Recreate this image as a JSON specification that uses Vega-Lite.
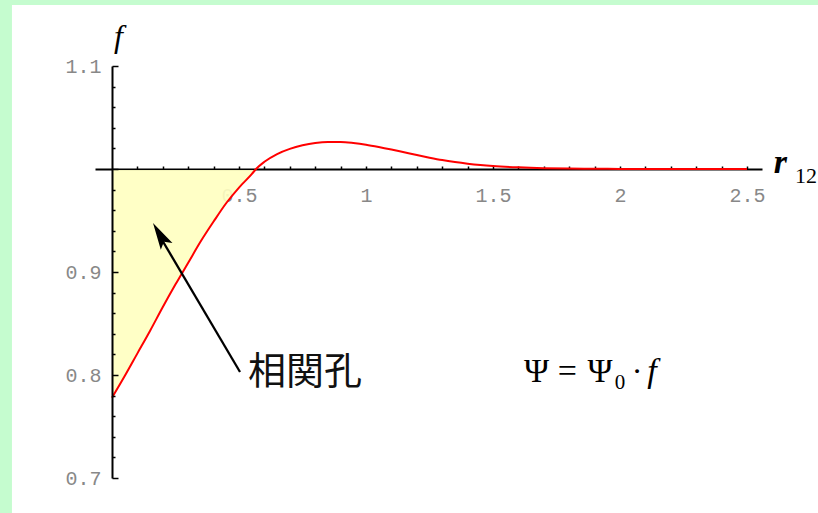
{
  "$schema": "https://vega.github.io/schema/vega-lite/v6.json",
  "width": 667,
  "height": 412,
  "autosize": {"type": "none"},
  "padding": {"left": 95, "top": 66, "right": 56, "bottom": 35},
  "background": "white",
  "config": {
    "view": {"stroke": null},
    "axis": {"labelOverlap": false, "labelFlush": false, "labelBound": false}
  },
  "datasets": {
    "curve": [
      {"r": 0, "f": 0.778},
      {"r": 0.05, "f": 0.799},
      {"r": 0.1, "f": 0.821},
      {"r": 0.15, "f": 0.843},
      {"r": 0.2, "f": 0.866},
      {"r": 0.25, "f": 0.888},
      {"r": 0.3, "f": 0.909},
      {"r": 0.35, "f": 0.93},
      {"r": 0.4, "f": 0.949},
      {"r": 0.45, "f": 0.967},
      {"r": 0.5, "f": 0.982},
      {"r": 0.55, "f": 0.995},
      {"r": 0.567, "f": 1.0},
      {"r": 0.6, "f": 1.007},
      {"r": 0.65, "f": 1.0145},
      {"r": 0.7, "f": 1.0195},
      {"r": 0.75, "f": 1.023},
      {"r": 0.8, "f": 1.0253},
      {"r": 0.85, "f": 1.0263},
      {"r": 0.9, "f": 1.0262},
      {"r": 0.95, "f": 1.0252},
      {"r": 1.0, "f": 1.0236},
      {"r": 1.05, "f": 1.0214},
      {"r": 1.1, "f": 1.0189},
      {"r": 1.15, "f": 1.0162},
      {"r": 1.2, "f": 1.0135},
      {"r": 1.25, "f": 1.011},
      {"r": 1.3, "f": 1.0087},
      {"r": 1.35, "f": 1.0068},
      {"r": 1.4, "f": 1.0052},
      {"r": 1.45, "f": 1.0039},
      {"r": 1.5, "f": 1.0029},
      {"r": 1.6, "f": 1.0016},
      {"r": 1.7, "f": 1.0008},
      {"r": 1.8, "f": 1.0004},
      {"r": 1.9, "f": 1.0002},
      {"r": 2.0, "f": 1.0001},
      {"r": 2.2, "f": 1.0},
      {"r": 2.5, "f": 1.0}
    ]
  },
  "layer": [
    {
      "data": {"name": "curve"},
      "transform": [{"filter": "datum.r <= 0.567"}],
      "mark": {"type": "area", "color": "#ffffc0", "opacity": 0.9, "interpolate": "monotone"},
      "encoding": {
        "x": {
          "field": "r", "type": "quantitative",
          "scale": {"domain": [-0.067, 2.559], "nice": false, "zero": false},
          "axis": {
            "orient": "bottom", "offset": -309, "title": null,
            "values": [0.1, 0.2, 0.3, 0.4, 0.5, 0.6, 0.7, 0.8, 0.9, 1.0, 1.1, 1.2, 1.3, 1.4, 1.5, 1.6, 1.7, 1.8, 1.9, 2.0, 2.1, 2.2, 2.3, 2.4, 2.5],
            "tickCount": 200,
            "format": "~g",
            "labelExpr": "abs(datum.value * 2 - round(datum.value * 2)) < 0.001 ? datum.label : ''",
            "grid": false,
            "domainColor": "black", "domainWidth": 2,
            "tickColor": "black", "tickWidth": 1.5, "tickSize": -3,
            "labelFont": "Liberation Mono", "labelFontSize": 20, "labelColor": "#888888",
            "labelPadding": 19, "labelOverlap": false, "labelFlush": false, "labelBound": false
          }
        },
        "y": {
          "field": "f", "type": "quantitative",
          "scale": {"domain": [0.7, 1.1], "nice": false, "zero": false},
          "axis": {
            "orient": "left", "offset": -17, "zindex": 1,
            "title": "f", "titleAngle": 0, "titleFont": "Liberation Serif", "titleFontStyle": "italic",
            "titleFontSize": 32, "titleFontWeight": "normal", "titleColor": "black",
            "titleX": 6, "titleY": -20, "titleAlign": "center", "titleBaseline": "alphabetic",
            "values": [0.7, 0.72, 0.74, 0.76, 0.78, 0.8, 0.82, 0.84, 0.86, 0.88, 0.9, 0.92, 0.94, 0.96, 0.98, 1.0, 1.02, 1.04, 1.06, 1.08, 1.1],
            "tickCount": 200,
            "format": ".1f",
            "labelExpr": "abs(datum.value * 10 - round(datum.value * 10)) < 0.001 && abs(datum.value - 1) > 0.001 ? datum.label : ''",
            "grid": false,
            "domainColor": "black", "domainWidth": 2,
            "tickColor": "black", "tickWidth": 1.5,
            "tickSize": {"condition": {"test": "abs(datum.value * 10 - round(datum.value * 10)) < 0.001", "value": -6}, "value": -3},
            "labelFont": "Liberation Mono", "labelFontSize": 20, "labelColor": "#888888",
            "labelPadding": 17, "labelOverlap": false, "labelFlush": false, "labelBound": false
          }
        },
        "y2": {"datum": 0.999}
      }
    },
    {
      "data": {"name": "curve"},
      "mark": {"type": "line", "color": "#ff0000", "strokeWidth": 2, "interpolate": "monotone"},
      "encoding": {
        "x": {"field": "r", "type": "quantitative"},
        "y": {"field": "f", "type": "quantitative"}
      }
    },
    {
      "data": {"values": [{}]},
      "mark": {"type": "rect", "color": "#c5fccf"},
      "encoding": {
        "x": {"datum": -0.45, "type": "quantitative"},
        "x2": {"datum": -0.394},
        "y": {"datum": 1.17, "type": "quantitative"},
        "y2": {"datum": 0.66}
      }
    },
    {
      "data": {"values": [{}]},
      "mark": {"type": "rect", "color": "#c5fccf"},
      "encoding": {
        "x": {"datum": -0.45, "type": "quantitative"},
        "x2": {"datum": 2.8},
        "y": {"datum": 1.17, "type": "quantitative"},
        "y2": {"datum": 1.1592}
      }
    },
    {
      "data": {"values": [{}]},
      "mark": {"type": "rule", "color": "black", "strokeWidth": 2.3},
      "encoding": {
        "x": {"datum": 0.504, "type": "quantitative"},
        "y": {"datum": 0.8029, "type": "quantitative"},
        "x2": {"datum": 0.19},
        "y2": {"datum": 0.934}
      }
    },
    {
      "data": {"values": [{}]},
      "mark": {"type": "point", "shape": "M0,-1L-0.5,1L0,0.6L0.5,1Z", "filled": true, "color": "black", "opacity": 1, "size": 730, "angle": -30.3, "strokeWidth": 0},
      "encoding": {
        "x": {"datum": 0.1882, "type": "quantitative"},
        "y": {"datum": 0.9362, "type": "quantitative"}
      }
    },
    {
      "data": {"values": [{}]},
      "mark": {"type": "text", "text": "相関孔", "font": "Noto Sans CJK JP", "fontSize": 38, "align": "left", "baseline": "alphabetic", "color": "#111111"},
      "encoding": {
        "x": {"datum": 0.535, "type": "quantitative"},
        "y": {"datum": 0.7913, "type": "quantitative"}
      }
    },
    {
      "data": {"values": [{}]},
      "mark": {"type": "text", "text": "Ψ", "font": "Liberation Serif", "fontSize": 34, "align": "center", "baseline": "alphabetic", "color": "black"},
      "encoding": {
        "x": {"datum": 1.671, "type": "quantitative"},
        "y": {"datum": 0.7932, "type": "quantitative"}
      }
    },
    {
      "data": {"values": [{}]},
      "mark": {"type": "text", "text": "=", "font": "Liberation Serif", "fontSize": 34, "align": "center", "baseline": "alphabetic", "color": "black"},
      "encoding": {
        "x": {"datum": 1.793, "type": "quantitative"},
        "y": {"datum": 0.7932, "type": "quantitative"}
      }
    },
    {
      "data": {"values": [{}]},
      "mark": {"type": "text", "text": "Ψ", "font": "Liberation Serif", "fontSize": 34, "align": "center", "baseline": "alphabetic", "color": "black"},
      "encoding": {
        "x": {"datum": 1.921, "type": "quantitative"},
        "y": {"datum": 0.7932, "type": "quantitative"}
      }
    },
    {
      "data": {"values": [{}]},
      "mark": {"type": "text", "text": "0", "font": "Liberation Serif", "fontSize": 21, "align": "center", "baseline": "alphabetic", "color": "black"},
      "encoding": {
        "x": {"datum": 2.0, "type": "quantitative"},
        "y": {"datum": 0.7864, "type": "quantitative"}
      }
    },
    {
      "data": {"values": [{}]},
      "mark": {"type": "text", "text": "·", "font": "Liberation Serif", "fontSize": 32, "align": "center", "baseline": "alphabetic", "color": "black"},
      "encoding": {
        "x": {"datum": 2.067, "type": "quantitative"},
        "y": {"datum": 0.7932, "type": "quantitative"}
      }
    },
    {
      "data": {"values": [{}]},
      "mark": {"type": "text", "text": "f", "font": "Liberation Serif", "fontSize": 34, "fontStyle": "italic", "align": "center", "baseline": "alphabetic", "color": "black"},
      "encoding": {
        "x": {"datum": 2.126, "type": "quantitative"},
        "y": {"datum": 0.7932, "type": "quantitative"}
      }
    },
    {
      "data": {"values": [{}]},
      "mark": {"type": "text", "text": "r", "font": "Liberation Serif", "fontSize": 34, "fontStyle": "italic", "fontWeight": "bold", "align": "left", "baseline": "alphabetic", "color": "black"},
      "encoding": {
        "x": {"datum": 2.605, "type": "quantitative"},
        "y": {"datum": 0.9961, "type": "quantitative"}
      }
    },
    {
      "data": {"values": [{}]},
      "mark": {"type": "text", "text": "12", "font": "Liberation Serif", "fontSize": 22, "align": "left", "baseline": "alphabetic", "color": "black"},
      "encoding": {
        "x": {"datum": 2.689, "type": "quantitative"},
        "y": {"datum": 0.9864, "type": "quantitative"}
      }
    }
  ]
}
